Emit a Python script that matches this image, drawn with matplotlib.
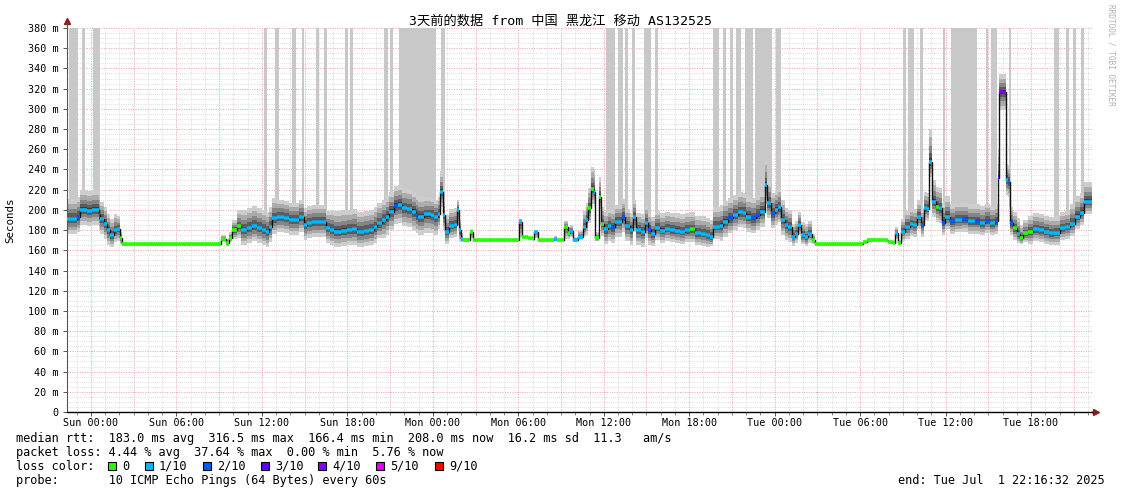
import numpy as np
import matplotlib
matplotlib.use("Agg")
import matplotlib.pyplot as plt
from matplotlib.patches import Rectangle

plt.rcParams['font.family'] = ['DejaVu Sans Mono', 'Noto Sans CJK SC']

# ---------------- data (hours relative to Sun 00:00) ----------------
hours = [-1.72, -0.98, -0.75, -0.3, 0.1, 0.54, 0.66, 0.89, 1.13, 1.36, 1.59, 1.83, 2.02, 2.18,
         9.14, 9.45, 9.68, 9.92, 10.27, 10.5, 10.97, 11.32, 11.67, 12.03, 12.26, 12.5, 12.73,
         13.08, 13.55, 13.9, 14.25, 14.6, 14.96, 15.19, 15.54, 16.13, 16.48,
         16.8, 17.07, 17.53, 18.0, 18.35, 18.71, 19.18, 19.53, 19.88, 20.11, 20.46, 20.7, 20.93,
         21.29, 21.52, 21.87, 22.22, 22.57, 22.81, 22.93, 23.4, 23.86, 24.1, 24.33, 24.5, 24.68,
         24.85, 25.15, 25.46, 25.69, 25.81, 25.97, 26.09, 26.63, 26.79,
         30.08, 30.26, 30.66, 31.01, 31.13, 31.36, 32.54, 32.7, 33.24, 33.47, 33.65, 33.83,
         34.18, 34.53, 34.76,
         34.88, 35.07, 35.3, 35.39, 35.65, 35.82, 36.05, 36.29, 36.52, 36.76, 37.11, 37.29, 37.46,
         37.81, 38.05, 38.28, 38.63, 38.87, 39.1, 39.33, 39.57, 39.92, 40.27, 40.63, 40.98, 41.33,
         41.68, 42.03, 42.38, 42.85, 43.2, 43.44, 43.67, 44.14, 44.37, 44.73, 45.08, 45.43, 45.78,
         46.01, 46.36, 46.72, 46.95, 47.19, 47.3, 47.49, 47.73, 48.01, 48.24, 48.43, 48.71, 48.95,
         49.23, 49.42, 49.65, 49.88, 50.12, 50.35, 50.63, 50.82,
         54.22, 54.45, 55.98, 56.33, 56.45, 56.64, 56.87, 57.15, 57.5, 57.74, 57.97, 58.28, 58.51,
         58.67, 58.84, 59.02, 59.3, 59.54, 59.73, 59.96, 60.31, 60.67, 61.14, 61.6, 62.08, 62.43,
         62.78, 63.13, 63.48, 63.67, 63.76, 64.23, 64.37, 64.49, 64.7, 65.0, 65.24, 65.47, 65.82,
         66.17, 66.53, 66.88, 67.23, 67.58, 68.05, 68.4, 68.75, 69.11, 69.46, 69.69, 70.04]

median = [191, 193, 200, 199, 200, 195, 191, 186, 180, 175, 180, 181, 172, 166.4,
          171, 167, 172, 180, 184, 180, 182, 184, 182, 180, 178, 183, 191.5,
          193, 192, 190, 190, 193, 185, 187, 188, 188, 182,
          180, 178.5, 179.5, 180, 180.6, 178, 179, 180, 182.7, 186.7, 190, 193.3, 198,
          204, 205, 201.6, 200.6, 198, 195, 193.3, 195.6, 195, 193, 196, 218, 195,
          178.4, 184, 185, 200, 180, 171, 170.2, 178, 170.2,
          188.3, 173.5, 172, 171, 178, 170, 171, 170, 183.4, 177.5, 179, 170,
          173.5, 183, 190,
          201.6, 220.7, 218, 171.9, 213, 186, 180.8, 184, 182.7, 188.3, 188, 193.3, 184,
          180, 193, 180, 178.5, 187, 180, 176, 182, 179.6, 181, 180, 179.6, 178.5,
          180, 180.6, 177, 176.5, 175, 172.9, 183, 184.4, 188.5, 191.7, 195, 197.6, 197,
          193.3, 191.7, 195, 198, 198, 224.6, 206.5, 196.6, 200, 202.6, 190, 185, 183,
          173.5, 176.5, 185, 175, 173, 176.5, 170, 166.5,
          168.5, 170.2, 168.5, 167, 176.8, 167, 178.4, 183.4, 186, 185, 193.3, 185, 201.6,
          201, 247.7, 208, 203, 201.6, 187.3, 193.3, 188.6, 190, 190.6, 188.6, 188.6, 186.7,
          189, 186.7, 188.6, 231.3, 316.5, 229.6, 228, 186.7, 181.8, 176, 171.9, 176.8, 178.4,
          180.8, 180, 178.4, 176.8, 177.5, 181.8, 183, 186, 193.3, 197.2, 208, 208]

loss = [1, 2, 1, 1, 1, 2, 1, 1, 1, 1, 1, 1, 0, 0,
        0, 0, 0, 0, 0, 1, 1, 1, 1, 1, 1, 1, 1,
        1, 1, 1, 1, 1, 1, 1, 1, 1, 1,
        1, 1, 1, 1, 1, 1, 1, 1, 1, 1, 1, 1, 1,
        2, 1, 1, 1, 1, 2, 1, 1, 1, 1, 1, 1, 1,
        1, 1, 1, 1, 1, 1, 0, 0, 0,
        1, 0, 0, 0, 1, 0, 1, 0, 0, 0, 1, 1,
        1, 1, 1,
        0, 0, 1, 0, 0, 0, 1, 1, 2, 1, 1, 2, 1,
        1, 1, 1, 1, 1, 2, 1, 1, 1, 1, 1, 1, 1,
        1, 0, 1, 1, 1, 1, 1, 1, 1, 2, 1, 1, 1,
        1, 2, 2, 1, 1, 1, 1, 2, 1, 1, 1, 1, 1,
        1, 1, 1, 1, 1, 1, 0, 0,
        0, 0, 0, 0, 1, 0, 1, 1, 1, 1, 1, 2, 1,
        1, 1, 1, 0, 1, 2, 1, 2, 1, 2, 1, 2, 1,
        2, 1, 2, 3, 4, 1, 2, 2, 0, 1, 0, 0, 0,
        1, 1, 1, 1, 1, 1, 1, 1, 1, 1, 1, 1]

smoke_up = [20, 20, 20, 20, 20, 20, 17, 17, 16, 16, 16, 13, 6, 1,
            4, 4, 6, 10, 16, 20, 20, 20, 20, 20, 20, 20, 20,
            17, 17, 17, 17, 17, 17, 17, 17, 17, 17,
            20, 20, 20, 20, 20, 20, 20, 20, 20, 20, 20, 20, 20,
            20, 20, 20, 20, 20, 20, 20, 17, 17, 17, 17, 20, 17,
            17, 17, 17, 10, 10, 6, 2, 3, 1,
            3, 1, 1, 1, 2, 1, 3, 1, 6, 6, 6, 3,
            6, 16, 17,
            20, 22, 22, 6, 20, 17, 17, 17, 17, 17, 17, 17, 17,
            17, 17, 17, 17, 17, 17, 17, 17, 17, 17, 17, 17, 17,
            17, 17, 17, 17, 17, 17, 20, 20, 20, 20, 20, 20, 20,
            20, 20, 20, 20, 20, 26, 22, 20, 20, 20, 20, 17, 17,
            13, 13, 13, 13, 13, 13, 6, 1,
            1, 1, 1, 3, 6, 3, 13, 16, 16, 16, 16, 16, 16,
            16, 32, 22, 20, 20, 20, 20, 17, 17, 17, 17, 17, 17,
            17, 17, 17, 28, 18, 16, 16, 16, 16, 16, 13, 13, 16,
            16, 16, 16, 16, 16, 16, 16, 20, 20, 20, 20, 20]

smoke_dn = [15, 15, 15, 15, 15, 15, 15, 15, 15, 12, 12, 12, 6, 0,
            3, 3, 4, 9, 12, 15, 15, 15, 15, 15, 15, 15, 15,
            15, 15, 15, 15, 15, 15, 15, 15, 15, 15,
            15, 15, 15, 15, 15, 15, 15, 15, 15, 15, 18, 18, 18,
            18, 18, 18, 18, 18, 18, 18, 18, 18, 18, 15, 15, 15,
            12, 12, 12, 15, 12, 3, 0, 6, 0,
            15, 1, 1, 1, 6, 0, 1, 0, 12, 6, 6, 1,
            3, 9, 15,
            15, 15, 15, 3, 12, 12, 15, 15, 15, 15, 15, 15, 15,
            15, 15, 15, 15, 15, 15, 12, 12, 12, 12, 12, 12, 12,
            12, 12, 12, 12, 12, 9, 12, 15, 15, 15, 15, 15, 15,
            15, 15, 15, 15, 15, 15, 15, 15, 15, 15, 15, 15, 15,
            9, 9, 9, 9, 9, 9, 4, 0,
            0, 0, 0, 0, 6, 0, 9, 12, 12, 12, 12, 12, 12,
            12, 15, 15, 15, 15, 12, 12, 12, 12, 12, 12, 12, 12,
            12, 12, 12, 28, 18, 15, 15, 12, 12, 9, 6, 9, 12,
            12, 12, 12, 12, 12, 12, 12, 12, 12, 12, 12, 12]

loss_start = [-1.55, -0.63, 0.14, 12.17, 12.94, 14.14, 14.84, 15.82, 16.39, 17.86, 18.21,
              20.6, 20.96, 21.59, 24.54, 36.15, 36.99, 37.48, 37.97, 38.82, 39.59, 43.67,
              44.37, 44.87, 45.29, 45.92, 46.62, 48.1, 57.03, 57.38, 58.23, 59.85, 60.41,
              62.87, 63.22, 64.42, 67.58, 68.42, 68.92, 69.48]
loss_end = [-0.91, -0.42, 0.63, 12.38, 13.22, 14.42, 14.98, 16.03, 16.6, 18.07, 18.42,
            20.82, 21.17, 24.19, 24.82, 36.78, 37.34, 37.69, 38.19, 39.31, 39.8, 44.09,
            44.58, 45.08, 45.64, 46.48, 47.82, 48.45, 57.24, 57.81, 58.44, 59.99, 62.24,
            63.01, 63.64, 64.56, 67.93, 68.64, 69.13, 69.69]

t_start, t_end = -1.72, 70.28
xtick_hours = [0, 6, 12, 18, 24, 30, 36, 42, 48, 54, 60, 66]
xtick_labels = ['Sun 00:00', 'Sun 06:00', 'Sun 12:00', 'Sun 18:00', 'Mon 00:00', 'Mon 06:00',
                'Mon 12:00', 'Mon 18:00', 'Tue 00:00', 'Tue 06:00', 'Tue 12:00', 'Tue 18:00']
ytick_values = list(range(0, 381, 20))

loss_levels = ['0', '1/10', '2/10', '3/10', '4/10', '5/10', '9/10']
loss_colors = ['#26ff00', '#00b8ff', '#0059ff', '#5e00ff', '#7e00ff', '#dd00ff', '#ff0000']

title = '3天前的数据 from 中国 黑龙江 移动 AS132525'
line_rtt = 'median rtt:  183.0 ms avg  316.5 ms max  166.4 ms min  208.0 ms now  16.2 ms sd  11.3   am/s'
line_loss = 'packet loss: 4.44 % avg  37.64 % max  0.00 % min  5.76 % now'
line_probe = 'probe:       10 ICMP Echo Pings (64 Bytes) every 60s'
line_end = 'end: Tue Jul  1 22:16:32 2025'

# ---------------- figure ----------------
W, H = 1121, 494
fig = plt.figure(figsize=(W / 100, H / 100), dpi=100)
fig.patch.set_facecolor('white')
ax = fig.add_axes([66.5 / W, (H - 412) / H, 1025.5 / W, 384 / H])
ax.set_xlim(t_start, t_end)
ax.set_ylim(0, 380)

# grid
for h in np.arange(-1, 71, 1):
    if h % 3 != 0:
        ax.axvline(h, color='#d4d4d4', lw=0.6, ls=(0, (1, 1.5)), zorder=0)
for v in np.arange(5, 381, 5):
    if v % 20 != 0:
        ax.axhline(v, color='#d4d4d4', lw=0.6, ls=(0, (1, 1.5)), zorder=0)
for h in np.arange(0, 71, 3):
    ax.axvline(h, color='#f0a0a0', lw=0.7, ls=(0, (1, 1.5)), zorder=0.5)
for v in np.arange(20, 381, 20):
    ax.axhline(v, color='#f0a0a0', lw=0.7, ls=(0, (1, 1.5)), zorder=0.5)

t = np.array(hours, dtype=float)
m = np.array(median, dtype=float)
up = np.array(smoke_up, dtype=float)
dn = np.array(smoke_dn, dtype=float)
tt = np.append(t, t_end)
mm = np.append(m, m[-1])
uu = np.append(up, up[-1])
dd = np.append(dn, dn[-1])

# loss bars
for s, e in zip(loss_start, loss_end):
    i = max(np.searchsorted(t, s, side='right') - 1, 0)
    j = max(np.searchsorted(t, e, side='right') - 1, 0)
    base = min(m[i] + up[i], m[j] + up[j])
    ax.bar(s, 380 - base, width=e - s, bottom=base, align='edge', color='#c8c8c8',
           lw=0, zorder=1)

# smoke
shades = [(1.0, '#cdcdcd'), (0.75, '#ababab'), (0.5, '#858585'), (0.28, '#5c5c5c'),
          (0.12, '#3a3a3a')]
for f, c in shades:
    ax.fill_between(tt, mm - dd * f, mm + uu * f, step='post', color=c, lw=0, zorder=2)

# median line
ax.step(tt, mm, where='post', color='#111111', lw=1.0, zorder=3)
ax.hlines(m, t, tt[1:], colors=[loss_colors[k] for k in loss], lw=2.6, zorder=4)

# axes styling
for sp in ['top', 'right']:
    ax.spines[sp].set_visible(False)
ax.spines['left'].set_color('#555555')
ax.spines['left'].set_linewidth(0.8)
ax.spines['bottom'].set_color('#000000')
ax.spines['bottom'].set_linewidth(1.0)
ax.set_xticks(xtick_hours)
ax.set_xticklabels(xtick_labels, fontsize=7.3)
ax.set_xticks(np.arange(-1, 71, 1), minor=True)
ax.set_yticks(ytick_values)
ax.set_yticklabels([('%d m' % v) if v > 0 else '0' for v in ytick_values], fontsize=7.3)
ax.tick_params(axis='both', which='major', length=3, width=0.7, color='#555555', pad=3)
ax.tick_params(axis='x', which='minor', length=2, width=0.6, color='#777777')
ax.tick_params(axis='x', pad=1.5)

# arrows
ax.plot([0], [1.017], marker='^', color='#8b1a1a', ms=4, transform=ax.transAxes, clip_on=False)
ax.plot([0, 0], [1.0, 1.015], color='#555555', lw=0.8, transform=ax.transAxes, clip_on=False)
ax.plot([1.0, 1.003], [0, 0], color='#000000', lw=1.0, transform=ax.transAxes, clip_on=False)
ax.plot([1.004], [0], marker='>', color='#8b1a1a', ms=4, transform=ax.transAxes, clip_on=False)

ax.set_ylabel('Seconds', fontsize=7.8, labelpad=9)

# texts
def px(x, y):
    return x / W, 1 - y / H

fig.text(*px(560.5, 21), title, ha='center', va='center', fontsize=9.5)
fig.text(*px(1111, 4), 'RRDTOOL / TOBI OETIKER', rotation=270, ha='center', va='top',
         fontsize=5.6, color='#b0b0b0')
fs = 8.6
fig.text(*px(16, 438), line_rtt, ha='left', va='center', fontsize=fs)
fig.text(*px(16, 452), line_loss, ha='left', va='center', fontsize=fs)
fig.text(*px(16, 466), 'loss color:', ha='left', va='center', fontsize=fs)
fig.text(*px(16, 480), line_probe, ha='left', va='center', fontsize=fs)
fig.text(*px(1105, 480), line_end, ha='right', va='center', fontsize=fs)

sq_x = [108, 145, 203, 261, 318, 376, 435]
for xs, lab, col in zip(sq_x, loss_levels, loss_colors):
    fig.add_artist(Rectangle(px(xs, 470), 8 / W, 8 / H, transform=fig.transFigure,
                             facecolor=col, edgecolor='black', lw=0.8))
    fig.text(*px(xs + 14, 466), lab, ha='left', va='center', fontsize=fs)

fig.savefig('out.png', dpi=100)
